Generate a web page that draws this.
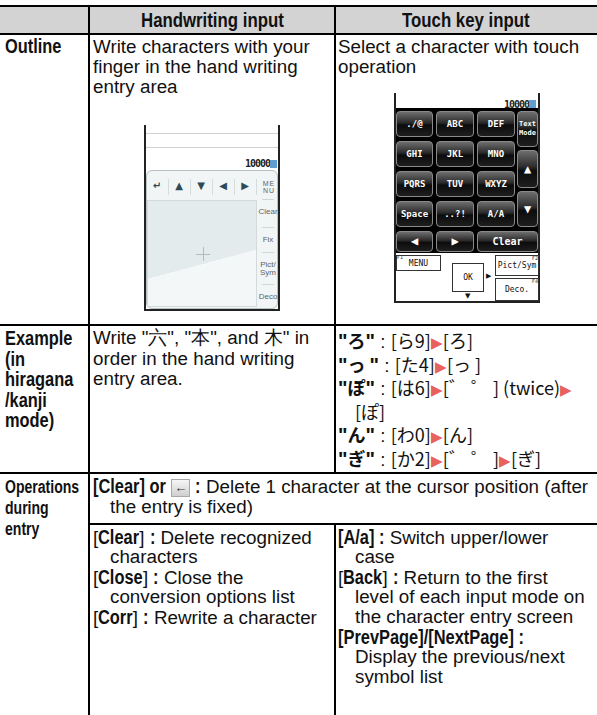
<!DOCTYPE html>
<html lang="en">
<head>
<meta charset="UTF-8" />
<title>Handwriting input / Touch key input</title>
<script src="https://cdn.jsdelivr.net/npm/chart.js@4.4.0/dist/chart.umd.min.js"></script>
<style>
  body {
    margin: 0;
    width: 597px;
    height: 715px;
    overflow: hidden;
    background: #fff;
    color: #111;
    font-family: "Liberation Sans", Arial, sans-serif;
    position: relative;
  }
  .abs { position: absolute; }
  .rule { position: absolute; background: #000; }
  .txt { position: absolute; font-size: 18.8px; white-space: nowrap; }
  .b { font-weight: bold; font-size: 20px; }
  .c { display: inline-block; transform-origin: left center; }
  .hang { padding-left: 17px; }
  .tri { color: #e8625c; font-size: 15px; }
  .jp { font-family: "Noto Sans CJK JP", sans-serif; font-size: 18px; }
  .icon {
    display: inline-block;
    width: 17px; height: 16px;
    line-height: 15px;
    text-align: center;
    font: bold 13px "Liberation Sans", Arial, sans-serif;
    vertical-align: 1px;
    background: linear-gradient(#f6f6f6, #cfcfcf);
    border: 1px solid #a8a8a8;
    color: #333;
  }
  .key {
    position: absolute;
    box-sizing: border-box;
    border: 1px solid #8a8a8a;
    border-radius: 4px;
    background: linear-gradient(#6e6e6e, #2a2a2a 45%, #0c0c0c 55%, #1e1e1e);
    color: #fff;
    font: bold 9px "DejaVu Sans Mono", monospace;
    display: flex; align-items: center; justify-content: center;
    text-align: center; line-height: 9px;
  }
  .wbox {
    position: absolute; box-sizing: border-box;
    border: 1px solid #333; background: #fff;
    font: 8px "DejaVu Sans Mono", monospace; color: #111;
    display: flex; align-items: center; justify-content: center;
  }
  .fn { position: absolute; font: 5px "DejaVu Sans", sans-serif; color: #333; }
  .hw { position: absolute; font: 8px "Liberation Sans", Arial, sans-serif; color: #5a6468; text-align: center; line-height: 8px; }
</style>
</head>
<body>
<script>
  // table text
  const columnHeads = ["Handwriting input", "Touch key input"];
  const rowHeads = [
    ["Outline"],
    ["Example", "(in", "hiragana", "/kanji", "mode)"],
    ["Operations", "during", "entry"],
  ];
  const outlineHandwriting = ["Write characters with your", "finger in the hand writing", "entry area"];
  const outlineTouch = ["Select a character with touch", "operation"];
  const exampleHandwriting = ['Write "六", "本", and 木" in', "order in the hand writing", "entry area."];
  const exampleTouch = [
    { ch: "ろ", steps: ["[ら9]", "[ろ]"] },
    { ch: "っ ", steps: ["[た4]", "[っ ]"] },
    { ch: "ぽ", steps: ["[は6]", "[゛ ゜ ] (twice)", "[ぽ]"], wrapAt: 2 },
    { ch: "ん", steps: ["[わ0]", "[ん]"] },
    { ch: "ぎ", steps: ["[か2]", "[゛ ゜ ]", "[ぎ]"] },
  ];
  const opsCommon = { key: "[Clear] or", lines: ["Delete 1 character at the cursor position (after", "the entry is fixed)"] };
  const opsHandwriting = [
    { key: "Clear", lines: ["Delete recognized", "characters"] },
    { key: "Close", lines: ["Close the", "conversion options list"] },
    { key: "Corr", lines: ["Rewrite a character"] },
  ];
  const opsTouch = [
    { key: "[A/a]", full: true, lines: ["Switch upper/lower", "case"] },
    { key: "Back", lines: ["Return to the first", "level of each input mode on", "the character entry screen"] },
    { key: "[PrevPage]/[NextPage]", full: true, lines: ["", "Display the previous/next", "symbol list"] },
  ];

  // screenshot labels
  const keypadKeys = [
    ["./@", "ABC", "DEF"],
    ["GHI", "JKL", "MNO"],
    ["PQRS", "TUV", "WXYZ"],
    ["Space", "..?!", "A/A"],
  ];
  const keypadSide = ["Text<br>Mode", "▲", "▼"];
  const keypadBottom = ["◀", "▶", "Clear"];
  const hwToolbar = ["↵", "▲", "▼", "◀", "▶"];
  const hwSide = ["Clear", "Fix", "Pict/<br>Sym", "Deco"];
  const counterText = "10000";

  function el(cls, css, html) {
    const d = document.createElement("div");
    d.className = cls;
    Object.assign(d.style, css);
    if (html !== undefined) d.innerHTML = html;
    document.body.appendChild(d);
    return d;
  }
  const px = (v) => v + "px";
  function rule(x, y, w, h) {
    el("rule", { left: px(x), top: px(y), width: px(w), height: px(h) });
  }
  // squeeze bold runs sideways (no narrow font installed) and give back the saved width
  function condense(root) {
    root.querySelectorAll(".c").forEach((e) => {
      const s = parseFloat(e.dataset.s || "0.82");
      const w = e.getBoundingClientRect().width;
      e.style.transform = "scaleX(" + s + ")";
      e.style.marginRight = px(-w * (1 - s));
    });
  }
  const bold = (t, size, s) =>
    '<span class="b c" data-s="' + (s || 0.82) + '"' + (size ? ' style="font-size:' + size + 'px"' : "") + ">" + t + "</span>";
  // one fixed-height div per line so mixed fonts do not stretch the pitch
  function textBlock(x, y, lines, pitch) {
    const html = lines.map((l) => '<div style="height:' + pitch + "px;line-height:" + pitch + 'px">' + l + "</div>").join("");
    const d = el("txt", { left: px(x), top: px(y) }, html);
    condense(d);
    return d;
  }

  // grid
  const colX = [0, 89, 335, 597];
  const rowY = [5, 33, 324, 472, 523];
  el("abs", { left: "0px", top: px(rowY[0]), width: "597px", height: px(rowY[1] - rowY[0]), background: "#d3d3d3" });
  rule(0, rowY[0], 597, 2);
  rule(0, rowY[1], 597, 2);
  rule(0, rowY[2], 597, 2);
  rule(0, rowY[3], 597, 2);
  rule(colX[1], rowY[4], 597 - colX[1], 2);
  rule(colX[1] - 1, rowY[0], 2, 715);
  rule(colX[2] - 1, rowY[0], 2, rowY[3] - rowY[0]);
  rule(colX[2] - 1, rowY[4], 2, 715 - rowY[4]);

  // column heads
  columnHeads.forEach((h, i) => {
    const cx = (colX[i + 1] + colX[i + 2]) / 2;
    const t = textBlock(0, rowY[0] + 3, [bold(h, 20, 0.84)], 24);
    const w = t.getBoundingClientRect().width;
    t.style.left = px(cx - w / 2);
  });

  // row heads
  const headTops = [rowY[1] + 3, rowY[2] + 4, rowY[3] + 4];
  rowHeads.forEach((lines, i) => {
    const size = i === 2 ? 18 : 20;
    const s = i === 2 ? 0.78 : 0.82;
    textBlock(5, headTops[i], lines.map((l) => bold(l, size, s)), i === 2 ? 21 : 20.5);
  });

  // outline row
  textBlock(colX[1] + 4, rowY[1] + 4, outlineHandwriting, 20);
  textBlock(colX[2] + 3, rowY[1] + 4, outlineTouch, 20);

  // example row
  textBlock(colX[1] + 4, rowY[2] + 4, exampleHandwriting, 20.5);
  const tri = '<span class="tri">▶</span>';
  const exLines = [];
  exampleTouch.forEach((e) => {
    const head = '<span class="b">"<span class="jp" style="font-weight:bold">' + e.ch + '</span>"</span> : ';
    const steps = e.steps.map((s) => '<span class="jp">' + s + "</span>");
    if (e.wrapAt) {
      exLines.push(head + steps.slice(0, e.wrapAt).join(tri) + tri);
      exLines.push('<span class="hang">' + steps.slice(e.wrapAt).join(tri) + "</span>");
    } else {
      exLines.push(head + steps.join(tri));
    }
  });
  textBlock(colX[2] + 3, rowY[2] + 5, exLines, 23.5);

  // operations row
  textBlock(colX[1] + 4, rowY[3] + 4, [
    bold(opsCommon.key) + ' <span class="icon">←</span> ' + bold(":") + " " + opsCommon.lines[0],
    '<span class="hang">' + opsCommon.lines[1] + "</span>",
  ], 20.5);
  function opsLines(items) {
    const out = [];
    items.forEach((it) => {
      const k = it.full ? bold(it.key + " :") : "[" + bold(it.key) + "] " + bold(":");
      it.lines.forEach((l, j) => {
        if (j === 0) out.push(k + (l ? " " + l : ""));
        else out.push('<span class="hang">' + l + "</span>");
      });
    });
    return out;
  }
  textBlock(colX[1] + 4, rowY[4] + 4, opsLines(opsHandwriting), 20);
  textBlock(colX[2] + 3, rowY[4] + 4, opsLines(opsTouch), 20);

  // handwriting screenshot
  const hx = 144, hy = 125;
  el("abs", { left: px(hx), top: px(hy), width: "136px", height: "186px", boxSizing: "border-box",
    borderLeft: "2px solid #222", borderRight: "2px solid #222", borderBottom: "2px solid #222", background: "#fff" });
  [133, 147].forEach((y) => el("abs", { left: px(hx + 2), top: px(y), width: "132px", height: "1px", background: "#cfd2d2" }));
  el("abs", { left: px(hx + 70), top: px(hy + 33), width: "56px", textAlign: "right",
    font: "bold 10px 'DejaVu Sans Mono', monospace", color: "#222", letterSpacing: "-1px" }, counterText);
  el("abs", { left: px(hx + 126), top: px(hy + 35), width: "7px", height: "8px", background: "#5f9fd0" });
  el("abs", { left: px(hx + 2), top: px(170), width: "132px", height: "139px", boxSizing: "border-box",
    background: "#f1f5f5", border: "1px solid #b8c2c3", borderRadius: "6px" });
  hwToolbar.forEach((s, i) => {
    el("abs", { left: px(hx + 7 + i * 22), top: px(180), width: "12px", textAlign: "center",
      font: "bold 10px 'DejaVu Sans', sans-serif", color: "#2c4a58" }, s);
    el("abs", { left: px(hx + 24 + i * 22), top: px(179), width: "1px", height: "16px", background: "#d4dcdc" });
  });
  el("hw", { left: px(hx + 117), top: px(180), width: "16px", fontSize: "7px", lineHeight: "7px", letterSpacing: "1px" }, "ME<br>NU");
  el("abs", { left: px(hx + 3), top: px(200), width: "110px", height: "107px", boxSizing: "border-box",
    border: "1px solid #d2dadb", background: "linear-gradient(165deg, #e3ebed 58%, #f4f7f7 58%)" });
  el("abs", { left: px(hx + 52), top: px(254), width: "14px", height: "1px", background: "#b3bcbd" });
  el("abs", { left: px(hx + 59), top: px(247), width: "1px", height: "14px", background: "#b3bcbd" });
  const sideY = [208, 236, 261, 293];
  hwSide.forEach((s, i) => {
    el("hw", { left: px(hx + 113), top: px(sideY[i]), width: "22px" }, s);
    el("abs", { left: px(hx + 118), top: px(sideY[i] - 9), width: "12px", height: "1px", background: "#cfd6d6" });
  });

  // touch key screenshot
  const kx = 394, ky = 93;
  el("abs", { left: px(kx), top: px(ky), width: "146px", height: "210px", boxSizing: "border-box",
    borderLeft: "2px solid #222", borderRight: "2px solid #222", borderBottom: "2px solid #222", background: "#fff" });
  el("abs", { left: px(kx + 70), top: px(ky + 6), width: "65px", textAlign: "right",
    font: "bold 10px 'DejaVu Sans Mono', monospace", color: "#222", letterSpacing: "-1px" }, counterText);
  el("abs", { left: px(kx + 135), top: px(ky + 7), width: "7px", height: "8px", background: "#5f9fd0" });
  el("abs", { left: px(kx + 2), top: px(108), width: "142px", height: "145px", background: "#000" });
  const keyRows = [[111, 137], [141, 167], [171, 197], [201, 227], [231, 252]];
  const keyCols = [[396, 433], [436, 474], [477, 515], [517, 538]];
  function key(label, x0, x1, y0, y1, size) {
    el("key", { left: px(x0), top: px(y0), width: px(x1 - x0), height: px(y1 - y0), fontSize: size || "9px" }, label);
  }
  keypadKeys.forEach((row, r) => row.forEach((lab, c) => key(lab, keyCols[c][0], keyCols[c][1], keyRows[r][0], keyRows[r][1])));
  key(keypadSide[0], keyCols[3][0], keyCols[3][1], 111, 147, "7px");
  key(keypadSide[1], keyCols[3][0], keyCols[3][1], 150, 188, "12px");
  key(keypadSide[2], keyCols[3][0], keyCols[3][1], 191, 227, "12px");
  key(keypadBottom[0], keyCols[0][0], keyCols[0][1], keyRows[4][0], keyRows[4][1], "12px");
  key(keypadBottom[1], keyCols[1][0], keyCols[1][1], keyRows[4][0], keyRows[4][1], "12px");
  key(keypadBottom[2], keyCols[2][0], keyCols[3][1], keyRows[4][0], keyRows[4][1], "10px");
  el("wbox", { left: "396px", top: "255px", width: "45px", height: "16px" }, "MENU");
  el("fn", { left: "397px", top: "254px" }, "F1");
  el("wbox", { left: "452px", top: "263px", width: "32px", height: "29px" }, "OK");
  el("abs", { left: "486px", top: "272px", font: "7px 'DejaVu Sans', sans-serif" }, "▶");
  el("abs", { left: "465px", top: "292px", font: "7px 'DejaVu Sans', sans-serif" }, "▼");
  el("wbox", { left: "495px", top: "255px", width: "44px", height: "21px" }, "Pict/Sym");
  el("fn", { left: "532px", top: "255px" }, "F2");
  el("wbox", { left: "495px", top: "278px", width: "44px", height: "23px" }, "Deco.");
  el("fn", { left: "532px", top: "278px" }, "F4");
</script>
</body>
</html>
